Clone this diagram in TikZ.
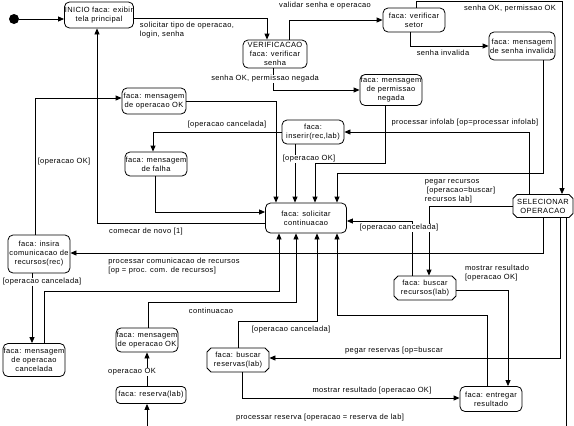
\documentclass[tikz,border=0pt]{standalone}
\usepackage{fontspec}
\setmainfont{Liberation Sans}[LetterSpace=5]
\usetikzlibrary{arrows.meta,shapes.misc}

\begin{document}
\begin{tikzpicture}[x=1pt, y=-1pt, line width=0.8pt,
  every node/.style={font=\fontsize{7.5}{9}\selectfont, inner sep=0.5pt},
  state/.style={draw, rounded corners=5pt, align=center, minimum width=62pt, minimum height=24pt},
  chamf/.style={draw, chamfered rectangle, chamfered rectangle xsep=2pt, chamfered rectangle ysep=2pt, align=center, minimum width=62pt, minimum height=24pt},
  lbl/.style={fill=white},
  arr/.style={-{Triangle[length=6pt, width=5pt]}}]

\useasboundingbox (0,0) rectangle (574,426);
\clip (0,0) rectangle (574,426);

% States
\node[fill, circle, inner sep=0pt, minimum size=10pt] (start) at (14,19) {};
\node[state, minimum width=68pt, minimum height=26pt] (inicio) at (99,15) {INICIO faca: exibir\\tela principal};
\node[state, minimum width=64pt, minimum height=28pt] (verif) at (275,54) {VERIFICACAO\\faca: verificar\\senha};
\node[state] (setor) at (414,20) {faca: verificar\\setor};
\node[state, minimum width=66pt, minimum height=28pt] (invalid) at (522,46) {faca: mensagem\\de senha invalida};
\node[state, minimum height=31pt] (permis) at (391,90) {faca: mensagem\\de permissao\\negada};
\node[state, minimum width=64pt, minimum height=26pt] (msgok1) at (154,101) {faca: mensagem\\de operacao OK};
\node[state] (inserir) at (313,132) {faca:\\inserir(rec,lab)};
\node[state] (falha) at (156,164) {faca: mensagem\\de falha};
\node[state, minimum width=81pt, minimum height=30pt] (solic) at (306,218) {faca: solicitar\\continuacao};
\node[chamf, minimum width=60pt, minimum height=23pt] (selec) at (543,206) {SELECIONAR\\OPERACAO};
\node[state, minimum height=38pt] (insira) at (39,254) {faca: insira\\comunicacao de\\recursos(rec)};
\node[chamf] (busrec) at (425,288) {faca: buscar\\recursos(lab)};
\node[state, minimum height=33pt] (cancel) at (34,360) {faca: mensagem\\de operacao\\cancelada};
\node[state] (msgok2) at (147,340) {faca: mensagem\\de operacao OK};
\node[chamf] (busres) at (238,360) {faca: buscar\\reservas(lab)};
\node[state, minimum height=25pt] (entregar) at (491,399) {faca: entregar\\resultado};
\node[state, minimum width=70pt, minimum height=17pt, rounded corners=4pt] (reserva) at (151,395) {faca: reserva(lab)};

% Upper part
\draw[arr] (start) -- (start -| inicio.west);
\draw[arr] ([yshift=-3pt]inicio.east) -| ([xshift=-8pt]verif.north);
\draw[arr] ([xshift=14pt]verif.north) |- (setor.west);
\draw[arr] ([xshift=-2pt]verif.south) |- (permis.west);
\draw[arr] ([xshift=-4pt]setor.south) |- (invalid.west);
\draw[arr] ([xshift=2pt]setor.north) -- ++(0,-6) -| ([xshift=19pt]selec.north);
\draw[arr] ([xshift=21pt]invalid.south) -- ++(0,113) -| ([xshift=31pt]solic.north);
\draw[arr] ([xshift=-6pt]permis.south) -- ++(0,57.5) -| ([xshift=9pt]solic.north);
\draw[arr] ([xshift=-14pt]selec.north) |- (inserir.east);
\draw[arr] (inserir.west) -| ([xshift=-3pt]falha.north);
\draw[arr] ([xshift=-18pt]inserir.south) -- ([xshift=-11pt]solic.north);
\draw[arr] (msgok1.east) -| ([xshift=-30pt]solic.north);
\draw[arr] ([xshift=-1pt]falha.south) |- ([yshift=6pt]solic.west);
\draw[arr] ([yshift=-5pt]solic.west) -| ([xshift=-2pt]inicio.south);

% Left part
\draw[arr] ([xshift=-4pt]insira.north) |- ([yshift=3pt]msgok1.west);
\draw[arr] ([xshift=-7pt]insira.south) -- ([xshift=-2pt]cancel.north);
\draw[arr] (selec.south) |- ([yshift=1pt]insira.east);

% Back to continuacao
\draw[arr] ([xshift=10pt]cancel.north) -- ++(0,-52) -| ([xshift=-27pt]solic.south);
\draw[arr] ([xshift=1pt]msgok2.north) -- ++(0,-25) -| ([xshift=-10pt]solic.south);
\draw[arr] (busres.north) -- ++(0,-26) -| ([xshift=11pt]solic.south);
\draw[arr] ([xshift=-4pt]entregar.north) -- ++(0,-70.5) -| ([xshift=31pt]solic.south);
\draw[arr] ([xshift=-13pt]busrec.north) |- ([yshift=-3pt]solic.east);

% Lower right part
\draw[arr] (selec.west) -| ([xshift=4pt]busrec.north);
\draw[arr] ([yshift=-2pt]busrec.east) -| ([xshift=17pt]entregar.north);
\draw[arr] ([xshift=17pt]selec.south) |- ([yshift=2pt]busres.east);
\draw[arr] ([xshift=23pt]selec.south) -- ++(0,222) -| ([xshift=-4pt]reserva.south);
\draw[arr] ([xshift=4pt]busres.south) |- ([yshift=1pt]entregar.west);
\draw[arr] ([xshift=-4pt]reserva.north) -- (msgok2.south);

% Labels
\node[lbl, align=left, anchor=west] (lsolic) at (139,30) {solicitar tipo de operacao,\\login, senha};
\node[lbl] (lvalida) at (325,6) {validar senha e operacao};
\node[lbl] (lpermok) at (510,9) {senha OK, permissao OK};
\node[lbl] (lpermneg) at (265,79) {senha OK, permissao negada};
\node[lbl] (linvalid) at (443,53) {senha invalida};
\node[lbl] (linfolab) at (465,123) {processar infolab [op=processar infolab]};
\node[lbl] (lcanc1) at (227,125) {[operacao cancelada]};
\node[lbl] (lok1) at (309,159) {[operacao OK]};
\node[lbl] (lok2) at (64,162) {[operacao OK]};
\node[lbl, align=left] (lpegrec) at (460,191) {pegar recursos\\{}\hspace{2pt}[operacao=buscar]\\{}recursos lab]};
\node[lbl] (lcanc2) at (399,228) {[operacao cancelada]};
\node[lbl] (lnovo) at (146,232) {comecar de novo [1]};
\node[lbl, align=left] (lcomun) at (174,266) {processar comunicacao de recursos\\{}[op = proc. com. de recursos]};
\node[lbl, align=left] (lmostra1) at (497,273) {mostrar resultado\\{}[operacao OK]};
\node[lbl] (lcanc3) at (42,282) {[operacao cancelada]};
\node[lbl] (lcont) at (211,311) {continuacao};
\node[lbl] (lcanc4) at (291,330) {[operacao cancelada]};
\node[lbl] (lpegres) at (394,351) {pegar reservas [op=buscar};
\node[lbl] (lok3) at (132,372) {operacao OK};
\node[lbl] (lmostra2) at (372,391) {mostrar resultado [operacao OK]};
\node[lbl] (lreserva) at (320,418) {processar reserva [operacao = reserva de lab]};

\end{tikzpicture}
\end{document}
